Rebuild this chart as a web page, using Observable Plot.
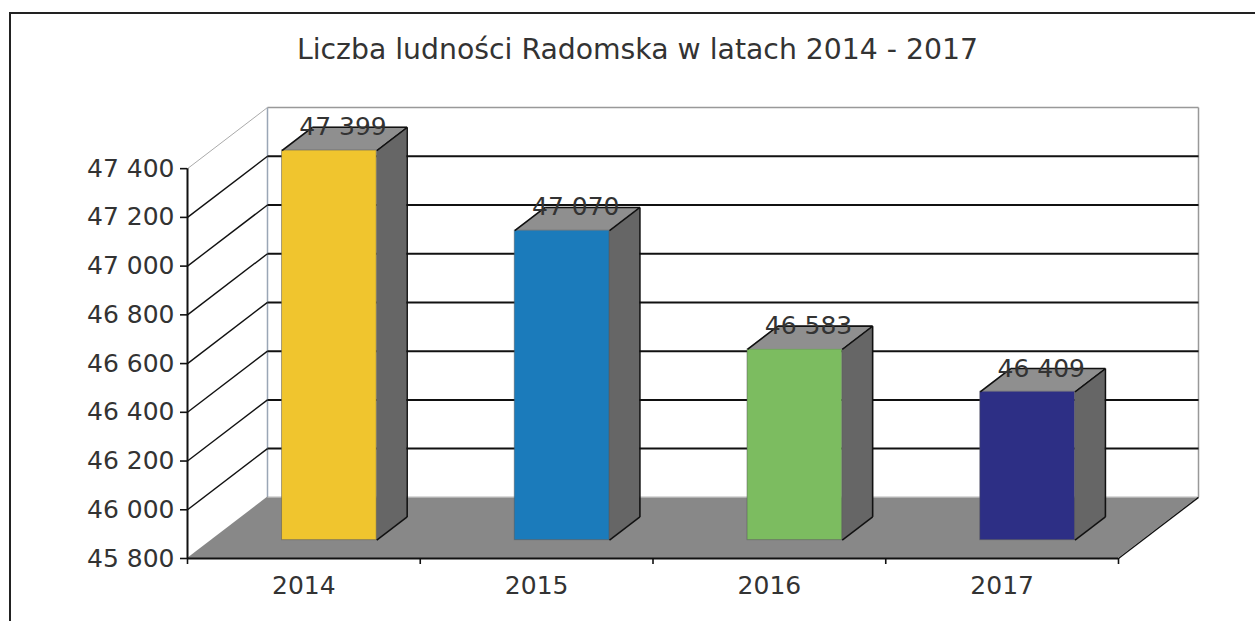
<!DOCTYPE html>
<html><head><meta charset="utf-8">
<script src="https://cdn.jsdelivr.net/npm/d3@7"></script>
<script src="https://cdn.jsdelivr.net/npm/@observablehq/plot@0.6"></script>
<style>
html,body{margin:0;padding:0;background:#fff}
#page{position:relative;width:1255px;height:621px;overflow:hidden;background:#fff;font-family:"DejaVu Sans",sans-serif}
#frame{position:absolute;left:9px;top:12px;width:1260px;height:640px;border-left:2px solid #222;border-top:2px solid #222}
#title{position:relative;width:1275px;height:90px;box-sizing:border-box;padding-top:33px;text-align:center;font-size:28.3px;line-height:34px;color:#333;white-space:nowrap}
#chart{position:relative}
svg{display:block;background:transparent}
</style></head><body>
<div id="page"><div id="frame"></div><div id="title">Liczba ludności Radomska w latach 2014 - 2017</div><div id="chart"></div></div>
<script>
const years = ["2014", "2015", "2016", "2017"];
const population = [47399, 47070, 46583, 46409];
const barColors = ["#f0c52e", "#1b7bbb", "#7cbc60", "#2d2f85"];
const yTicks = [45800, 46000, 46200, 46400, 46600, 46800, 47000, 47200, 47400];
const yBase = 45800;

// Oblique depth of the box, in data units of each scale
const depthX = 0.3437, depthY = 251;
const barZ = [0.30, 0.68];
const barX = [0.303, 0.71];
const fmt = v => String(v).replace(/(\d\d)(\d{3})$/, "$1 $2");

const bars = years.map((year, i) => ({
  year, i, value: population[i], color: barColors[i],
  xl: i + barX[0], xr: i + barX[1]
}));
const px = (x, z) => x + z * depthX;
const py = (v, z) => v + z * depthY;

const sideRows = bars.flatMap(b => barZ.map(z => ({
  i: b.i, x: px(b.xr, z), y1: py(yBase, z), y2: py(b.value, z)
})));
const topRows = bars.flatMap(b => barZ.map(z => ({
  i: b.i, y: py(b.value, z), x1: px(b.xl, z), x2: px(b.xr, z)
})));
const floorRows = [0, 1].map(z => ({ y: py(yBase, z), x1: px(0, z), x2: px(years.length, z) }));
const inner = yTicks.slice(1, -1);
const yTop = yTicks[yTicks.length - 1];
const n = years.length;

const edge = {stroke: "#111", strokeWidth: 1.6};
const seg = (b, x1, z1, v1, x2, z2, v2) => ({x1: px(x1, z1), y1: py(v1, z1), x2: px(x2, z2), y2: py(v2, z2)});
const barEdges = bars.flatMap(b => [
  seg(b, b.xr, barZ[1], yBase, b.xr, barZ[1], b.value),
  seg(b, b.xr, barZ[0], yBase, b.xr, barZ[1], yBase),
  seg(b, b.xr, barZ[0], b.value, b.xr, barZ[1], b.value),
  seg(b, b.xl, barZ[0], b.value, b.xl, barZ[1], b.value),
  seg(b, b.xl, barZ[1], b.value, b.xr, barZ[1], b.value)
]);

const chart = Plot.plot({
  width: 1255, height: 531,
  marginTop: 17, marginBottom: 63, marginLeft: 187, marginRight: 57,
  x: {domain: [0, n + depthX], axis: null},
  y: {domain: [yBase, yTop + depthY], axis: null},
  color: {type: "identity"},
  style: {fontFamily: "DejaVu Sans, sans-serif", background: "transparent", overflow: "visible"},
  marks: [
    // back wall
    Plot.link([0], {x1: depthX, x2: n + depthX, y1: yTop + depthY, y2: yTop + depthY, stroke: "#999", strokeWidth: 1.5}),
    Plot.link([0], {x1: n + depthX, x2: n + depthX, y1: yBase + depthY, y2: yTop + depthY, stroke: "#999", strokeWidth: 1.5}),
    Plot.link([0], {x1: depthX, x2: depthX, y1: yBase + depthY, y2: yTop + depthY, stroke: "#9aa6b6", strokeWidth: 1.5}),
    Plot.link(inner, {x1: depthX, x2: n + depthX, y1: d => d + depthY, y2: d => d + depthY, stroke: "#111", strokeWidth: 2}),
    // left wall
    Plot.link(inner, {x1: 0, x2: depthX, y1: d => d, y2: d => d + depthY, stroke: "#111", strokeWidth: 1.4}),
    Plot.link([yTop], {x1: 0, x2: depthX, y1: d => d, y2: d => d + depthY, stroke: "#aaa", strokeWidth: 1}),
    // floor
    Plot.areaX(floorRows, {y: "y", x1: "x1", x2: "x2", fill: "#888"}),
    Plot.link([0], {x1: depthX, x2: n + depthX, y1: yBase + depthY, y2: yBase + depthY, stroke: "#bbb", strokeWidth: 1}),
    Plot.link([0], {x1: n, x2: n + depthX, y1: yBase, y2: yBase + depthY, stroke: "#111", strokeWidth: 1.4}),
    // bars
    Plot.areaY(sideRows, {x: "x", y1: "y1", y2: "y2", z: "i", fill: "#666"}),
    Plot.areaX(topRows, {y: "y", x1: "x1", x2: "x2", z: "i", fill: "#8f8f8f"}),
    Plot.rect(bars, {
      x1: d => px(d.xl, barZ[0]), x2: d => px(d.xr, barZ[0]),
      y1: py(yBase, barZ[0]), y2: d => py(d.value, barZ[0]),
      fill: "color", stroke: "#555", strokeOpacity: 0.5, strokeWidth: 1
    }),
    Plot.link(barEdges, {x1: "x1", y1: "y1", x2: "x2", y2: "y2", ...edge}),
    // value labels
    Plot.text(bars, {
      x: d => px(d.i + 0.51, 0.46), y: d => py(d.value, barZ[1]),
      text: d => fmt(d.value), fontSize: 25, fill: "#333"
    }),
    // axes
    Plot.ruleX([0], {y1: yBase, y2: yTop, stroke: "#111", strokeWidth: 2}),
    Plot.ruleY([yBase], {x1: 0, x2: n, stroke: "#111", strokeWidth: 2}),
    Plot.axisY({ticks: yTicks, tickFormat: fmt, anchor: "left", tickSize: 7, tickPadding: 6, fontSize: 25, stroke: "#111", fill: "#333", strokeWidth: 1.6}),
    Plot.axisX({ticks: d3.range(n + 1), tickFormat: () => "", anchor: "bottom", tickSize: 6, stroke: "#111", strokeWidth: 1.6}),
    Plot.axisX({ticks: years.map((_, i) => i + 0.5), tickFormat: (_, i) => years[i], anchor: "bottom", tickSize: 0, tickPadding: 18, fontSize: 25, fill: "#333"})
  ]
});
document.getElementById("chart").appendChild(chart);
</script></body></html>
